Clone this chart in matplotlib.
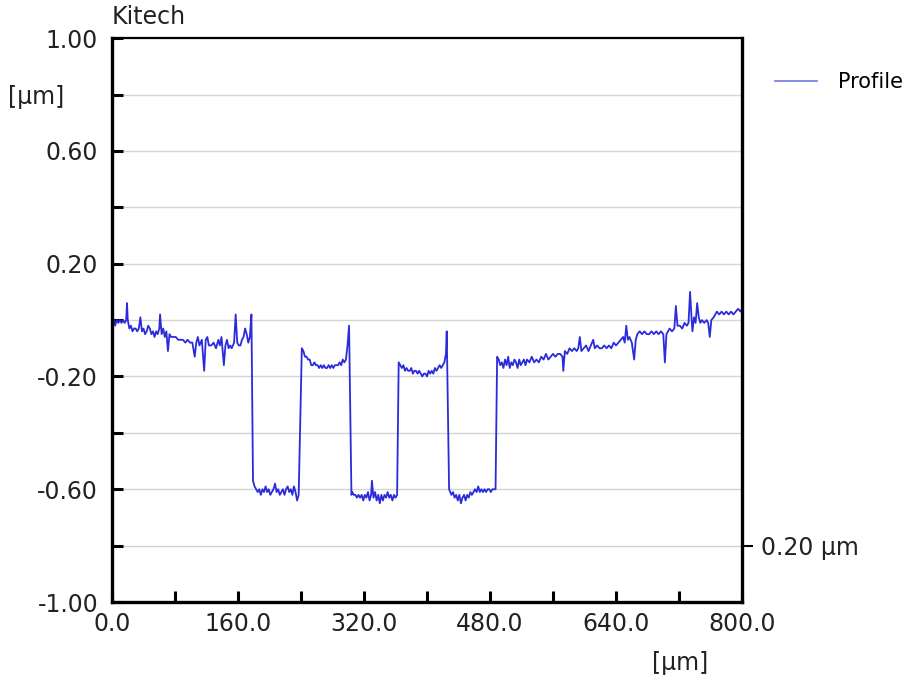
import matplotlib
matplotlib.use("Agg")
import matplotlib.pyplot as plt

plt.rcParams['font.family'] = ['DejaVu Sans']

# profile (x in um, height in um)
x_um = [0, 2, 4, 6, 8, 10, 12, 14, 16, 18, 19, 20, 22, 24, 26, 28, 30, 32, 34, 36,
        38, 40, 42, 44, 46, 48, 50, 52, 54, 56, 58, 60, 61, 63, 65, 67, 69, 71, 73, 75,
        78, 81, 84, 87, 90, 93, 96, 99, 102, 105, 107, 109, 111, 114, 117, 119, 121, 123, 126, 129,
        132, 135, 137, 139, 142, 144, 146, 148, 150, 152, 155, 157, 159, 161, 163, 165, 167, 169, 171, 173,
        175, 177, 179, 181, 183, 185, 187, 189, 191, 193, 195, 197, 199, 201, 203, 205, 207, 209, 211, 213,
        215, 217, 219, 221, 223, 225, 227, 229, 231, 233, 235, 237, 241, 243, 245, 247, 249, 251, 253, 255,
        257, 259, 261, 263, 265, 267, 269, 271, 273, 275, 277, 279, 281, 283, 285, 287, 289, 291, 293, 295,
        297, 299, 301, 304, 305, 307, 309, 311, 313, 315, 317, 319, 321, 323, 325, 327, 329, 330, 332, 334,
        336, 338, 340, 342, 344, 346, 348, 350, 352, 354, 356, 358, 360, 362, 364, 366, 368, 370, 372, 374,
        376, 378, 380, 382, 384, 386, 388, 390, 392, 394, 396, 398, 400, 402, 404, 406, 408, 410, 412, 414,
        416, 418, 420, 422, 424, 425, 428, 431, 433, 435, 437, 439, 441, 443, 445, 447, 449, 451, 453, 455,
        457, 459, 461, 463, 465, 467, 469, 471, 473, 475, 477, 479, 481, 483, 485, 487, 489, 491, 493, 495,
        497, 499, 501, 503, 505, 507, 509, 511, 513, 515, 517, 519, 521, 523, 525, 527, 530, 533, 536, 539,
        542, 545, 548, 551, 554, 557, 560, 563, 566, 569, 572, 573, 575, 578, 581, 584, 587, 590, 592, 594,
        596, 599, 602, 605, 608, 611, 613, 616, 619, 622, 625, 628, 631, 634, 637, 640, 643, 646, 649, 651,
        653, 655, 657, 660, 663, 665, 667, 670, 673, 676, 679, 682, 685, 688, 691, 694, 697, 700, 702, 704,
        706, 708, 711, 714, 716, 718, 721, 724, 727, 730, 732, 734, 736, 737, 739, 741, 743, 745, 747, 749,
        752, 755, 757, 759, 761, 764, 766, 768, 771, 774, 777, 780, 783, 786, 789, 792, 795, 798, 800]

z_um = [-0.01, 0.00, -0.02, 0.00, -0.01, 0.00, -0.01, 0.00, -0.01, 0.00, 0.06, 0.00, -0.03, -0.02, -0.04, -0.03, -0.03, -0.04, -0.03, 0.01,
        -0.04, -0.03, -0.05, -0.04, -0.02, -0.03, -0.05, -0.04, -0.06, -0.04, -0.05, -0.03, 0.02, -0.05, -0.03, -0.06, -0.04, -0.11, -0.05, -0.06,
        -0.06, -0.06, -0.07, -0.07, -0.07, -0.08, -0.07, -0.08, -0.08, -0.13, -0.08, -0.06, -0.09, -0.07, -0.18, -0.07, -0.06, -0.09, -0.09, -0.08,
        -0.10, -0.07, -0.09, -0.06, -0.16, -0.09, -0.07, -0.10, -0.09, -0.10, -0.08, 0.02, -0.08, -0.09, -0.09, -0.07, -0.06, -0.03, -0.05, -0.08,
        -0.06, 0.02, -0.57, -0.59, -0.60, -0.61, -0.60, -0.62, -0.60, -0.61, -0.59, -0.61, -0.60, -0.62, -0.61, -0.60, -0.58, -0.61, -0.60, -0.62,
        -0.61, -0.60, -0.62, -0.60, -0.59, -0.61, -0.60, -0.62, -0.59, -0.61, -0.64, -0.62, -0.10, -0.11, -0.13, -0.13, -0.14, -0.14, -0.16, -0.16,
        -0.15, -0.16, -0.16, -0.17, -0.16, -0.17, -0.16, -0.17, -0.17, -0.16, -0.17, -0.16, -0.17, -0.16, -0.16, -0.16, -0.15, -0.16, -0.14, -0.15,
        -0.14, -0.09, -0.02, -0.62, -0.61, -0.62, -0.62, -0.63, -0.62, -0.63, -0.62, -0.64, -0.62, -0.63, -0.61, -0.64, -0.62, -0.57, -0.63, -0.61,
        -0.64, -0.62, -0.65, -0.62, -0.64, -0.62, -0.63, -0.61, -0.63, -0.62, -0.64, -0.62, -0.63, -0.62, -0.15, -0.16, -0.17, -0.16, -0.18, -0.17,
        -0.18, -0.18, -0.17, -0.19, -0.18, -0.18, -0.19, -0.18, -0.19, -0.20, -0.19, -0.19, -0.20, -0.18, -0.19, -0.18, -0.19, -0.17, -0.18, -0.17,
        -0.16, -0.17, -0.16, -0.15, -0.12, -0.04, -0.60, -0.62, -0.61, -0.63, -0.62, -0.64, -0.62, -0.65, -0.63, -0.62, -0.64, -0.62, -0.63, -0.61,
        -0.62, -0.61, -0.60, -0.61, -0.59, -0.61, -0.60, -0.61, -0.60, -0.61, -0.60, -0.60, -0.61, -0.60, -0.60, -0.60, -0.13, -0.14, -0.16, -0.15,
        -0.17, -0.14, -0.16, -0.13, -0.17, -0.15, -0.16, -0.14, -0.15, -0.17, -0.14, -0.16, -0.15, -0.14, -0.16, -0.14, -0.15, -0.13, -0.15, -0.14,
        -0.15, -0.13, -0.14, -0.12, -0.14, -0.13, -0.12, -0.13, -0.12, -0.12, -0.13, -0.18, -0.11, -0.12, -0.10, -0.11, -0.10, -0.11, -0.10, -0.06,
        -0.11, -0.10, -0.09, -0.11, -0.09, -0.07, -0.10, -0.09, -0.10, -0.10, -0.09, -0.10, -0.09, -0.10, -0.08, -0.09, -0.08, -0.07, -0.06, -0.08,
        -0.02, -0.07, -0.06, -0.08, -0.14, -0.07, -0.05, -0.04, -0.05, -0.04, -0.05, -0.05, -0.04, -0.05, -0.04, -0.05, -0.04, -0.05, -0.15, -0.05,
        -0.04, -0.03, -0.04, -0.03, 0.05, -0.02, -0.02, -0.03, -0.01, -0.02, -0.01, 0.10, 0.00, -0.04, 0.01, -0.01, 0.06, 0.01, -0.01, 0.00,
        -0.01, 0.00, -0.01, -0.06, 0.00, 0.01, 0.02, 0.03, 0.02, 0.03, 0.02, 0.03, 0.02, 0.03, 0.02, 0.03, 0.04, 0.03, 0.04]

x_ticks = [0, 80, 160, 240, 320, 400, 480, 560, 640, 720, 800]
x_tick_labels = ['0.0', '', '160.0', '', '320.0', '', '480.0', '', '640.0', '', '800.0']
y_ticks = [-1.0, -0.8, -0.6, -0.4, -0.2, 0.0, 0.2, 0.4, 0.6, 0.8, 1.0]
y_tick_labels = ['-1.00', '', '-0.60', '', '-0.20', '', '0.20', '', '0.60', '', '1.00']

fig = plt.figure(figsize=(9.16, 6.81), dpi=100)
ax = fig.add_axes([0.1223, 0.116, 0.6878, 0.828])

for yv in y_ticks[1:-1]:
    ax.axhline(yv, color='#d3d3d3', linewidth=1.0, zorder=0)

ax.plot(x_um, z_um, color='#2b2bdc', linewidth=1.3, label='Profile')

ax.set_xlim(0, 800)
ax.set_ylim(-1.0, 1.0)
ax.set_xticks(x_ticks)
ax.set_xticklabels(x_tick_labels)
ax.set_yticks(y_ticks)
ax.set_yticklabels(y_tick_labels)
ax.tick_params(axis='both', direction='in', length=8, width=2.2, labelsize=17, colors='black')
ax.tick_params(axis='x', pad=7)
ax.tick_params(axis='y', pad=10)
for lab in ax.get_xticklabels() + ax.get_yticklabels():
    lab.set_color('#222222')

for side in ['left', 'right', 'bottom']:
    ax.spines[side].set_linewidth(2.4)
ax.spines['top'].set_linewidth(1.6)

# scale marker on the right edge
ax2 = ax.twinx()
ax2.set_ylim(-1.0, 1.0)
ax2.set_yticks([-0.8])
ax2.set_yticklabels(['0.20 µm'], color='#222222')
ax2.tick_params(axis='y', direction='out', length=8, width=1.5, labelsize=17, pad=6)
for sp in ax2.spines.values():
    sp.set_visible(False)

fig.text(0.1223, 0.957, 'Kitech', fontsize=17, ha='left', va='bottom', color='#222222')
fig.text(0.009, 0.857, '[µm]', fontsize=17, ha='left', va='center', color='#222222')
fig.text(0.743, 0.026, '[µm]', fontsize=17, ha='center', va='center', color='#222222')

leg = fig.legend(loc='upper left', bbox_to_anchor=(0.826, 0.922), frameon=False,
                 fontsize=15, handlelength=2.0, handletextpad=1.0)
leg.get_lines()[0].set_color('#7f7fe6')

plt.savefig('out.png', dpi=100)
